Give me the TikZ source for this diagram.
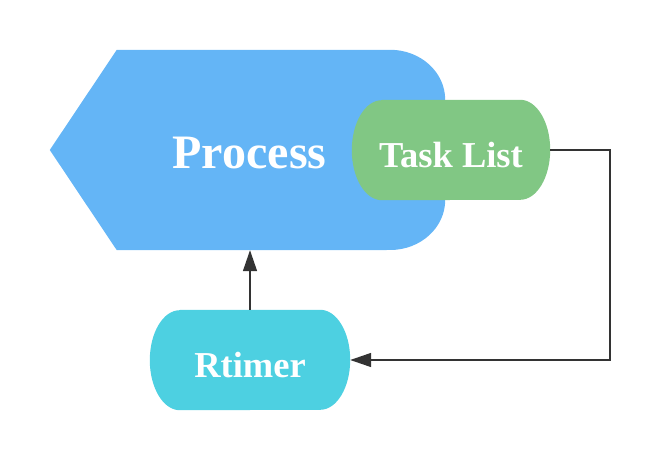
\documentclass[tikz,border=0pt]{standalone}
\usepackage{fontspec}
\setmainfont{Liberation Serif}
\usetikzlibrary{arrows.meta,backgrounds}
\definecolor{procblue}{HTML}{64B5F6}
\definecolor{taskgreen}{HTML}{81C784}
\definecolor{timercyan}{HTML}{4DD0E1}
\definecolor{linkgray}{HTML}{333333}
\begin{document}
\begin{tikzpicture}[x=1pt, y=1pt,
    label text/.style={text=white, font=\bfseries\fontsize{36.5}{40}\selectfont,
        text height=35pt, text depth=0pt},
    pill/.style={label text, minimum width=200pt, minimum height=100pt, inner sep=0pt},
    link/.style={draw=linkgray, line width=1.5pt, -{Triangle[length=21pt, width=14pt]}}]
    \useasboundingbox (0,0) rectangle (660,460);

    % nodes
    \node[label text, font=\bfseries\fontsize{48}{52}\selectfont, text height=38pt,
        minimum width=395pt, minimum height=200pt, inner sep=0pt] (proc) at (247.5,310) {\hspace*{4pt}Process};
    \node[pill, minimum width=198pt, text height=36pt] (task) at (451,310) {Task List};
    \node[pill, text height=35pt] (rtimer) at (250,100) {Rtimer};

    % shapes behind the texts
    \begin{scope}[on background layer]
        \fill[procblue] (proc.west) -- ([xshift=67pt]proc.north west) -- ([xshift=-55pt]proc.north east)
            arc[start angle=90, end angle=0, x radius=55pt, y radius=50pt]
            -- ([yshift=-50pt]proc.east)
            arc[start angle=0, end angle=-90, x radius=55pt, y radius=50pt]
            -- ([xshift=67pt]proc.south west) -- cycle;
        \fill[taskgreen] ([xshift=30pt]task.north west) -- ([xshift=-30pt]task.north east)
            arc[start angle=90, end angle=-90, x radius=30pt, y radius=50pt]
            -- ([xshift=30pt]task.south west)
            arc[start angle=270, end angle=90, x radius=30pt, y radius=50pt] -- cycle;
        \fill[timercyan] ([xshift=30pt]rtimer.north west) -- ([xshift=-30pt]rtimer.north east)
            arc[start angle=90, end angle=-90, x radius=30pt, y radius=50pt]
            -- ([xshift=30pt]rtimer.south west)
            arc[start angle=270, end angle=90, x radius=30pt, y radius=50pt] -- cycle;
    \end{scope}

    % connectors
    \draw[link] (rtimer.north) -- (rtimer.north |- proc.south);
    \draw[link] (task.east) -- ++(60,0) |- (rtimer.east);
\end{tikzpicture}
\end{document}
